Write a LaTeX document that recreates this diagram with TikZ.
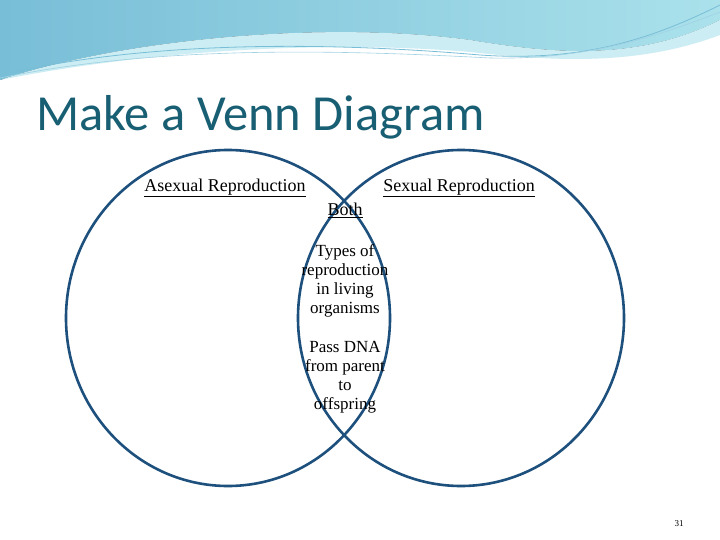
\documentclass[tikz,border=0pt]{standalone}
\usepackage{fontspec}
\usetikzlibrary{shapes.geometric}
\setmainfont{Liberation Serif}
\newfontfamily\titlefont{Carlito}
\begin{document}
\begin{tikzpicture}[x=1pt,y=-1pt,
  ring/.style={draw=ringblue,line width=2.6pt},
  lbl/.style={font=\fontsize{18}{20}\selectfont,inner sep=1pt},
  mid/.style={font=\fontsize{17}{19}\selectfont,align=center,inner sep=0pt}]
\definecolor{ringblue}{RGB}{30,80,125}
\definecolor{titlec}{RGB}{25,95,115}
\definecolor{waveA}{RGB}{120,190,215}
\definecolor{waveB}{RGB}{170,225,235}
\useasboundingbox (0,0) rectangle (720,540);
\fill[white] (0,0) rectangle (720,540);
% header waves
\fill[left color=waveA,right color=waveB] (0,0) -- (720,0) -- (720,20) .. controls (640,60) and (560,55) .. (470,40) .. controls (320,20) and (120,40) .. (0,80) -- cycle;
\fill[waveB!60] (470,40) .. controls (560,55) and (640,60) .. (720,20) -- (720,35) .. controls (640,65) and (560,62) .. (470,52) .. controls (330,40) and (150,50) .. (0,80) .. controls (120,40) and (320,20) .. (470,40);
\draw[waveA,line width=0.8pt] (0,75) .. controls (150,40) and (330,42) .. (480,55) .. controls (580,62) and (650,40) .. (720,5);
\draw[waveA!70,line width=0.6pt] (0,78) .. controls (160,45) and (340,50) .. (490,58) .. controls (590,60) and (660,35) .. (720,12);
\node[anchor=west,text=titlec,font=\titlefont\fontsize{50.5}{56}\selectfont,inner sep=0pt] (title) at (36,117) {Make a Venn Diagram};
\node[ring,ellipse,minimum width=324pt,minimum height=336pt,inner sep=0pt] (L) at (228,318) {};
\node[ring,ellipse,minimum width=326pt,minimum height=336pt,inner sep=0pt] (R) at (461,318) {};
\node[lbl] (a) at (225,188) {\underline{Asexual Reproduction}};
\node[lbl] (s) at (459,188) {\underline{Sexual Reproduction}};
\node[lbl] (b) at (345,210) {\underline{Both}};
\node[mid] (t1) at (345,281) {Types of\\reproduction\\in living\\organisms};
\node[mid] (t2) at (345,377) {Pass DNA\\from parent\\to\\offspring};
\node[font=\fontsize{9}{10}\selectfont,inner sep=0pt] (pg) at (679,524) {31};
\end{tikzpicture}
\end{document}
